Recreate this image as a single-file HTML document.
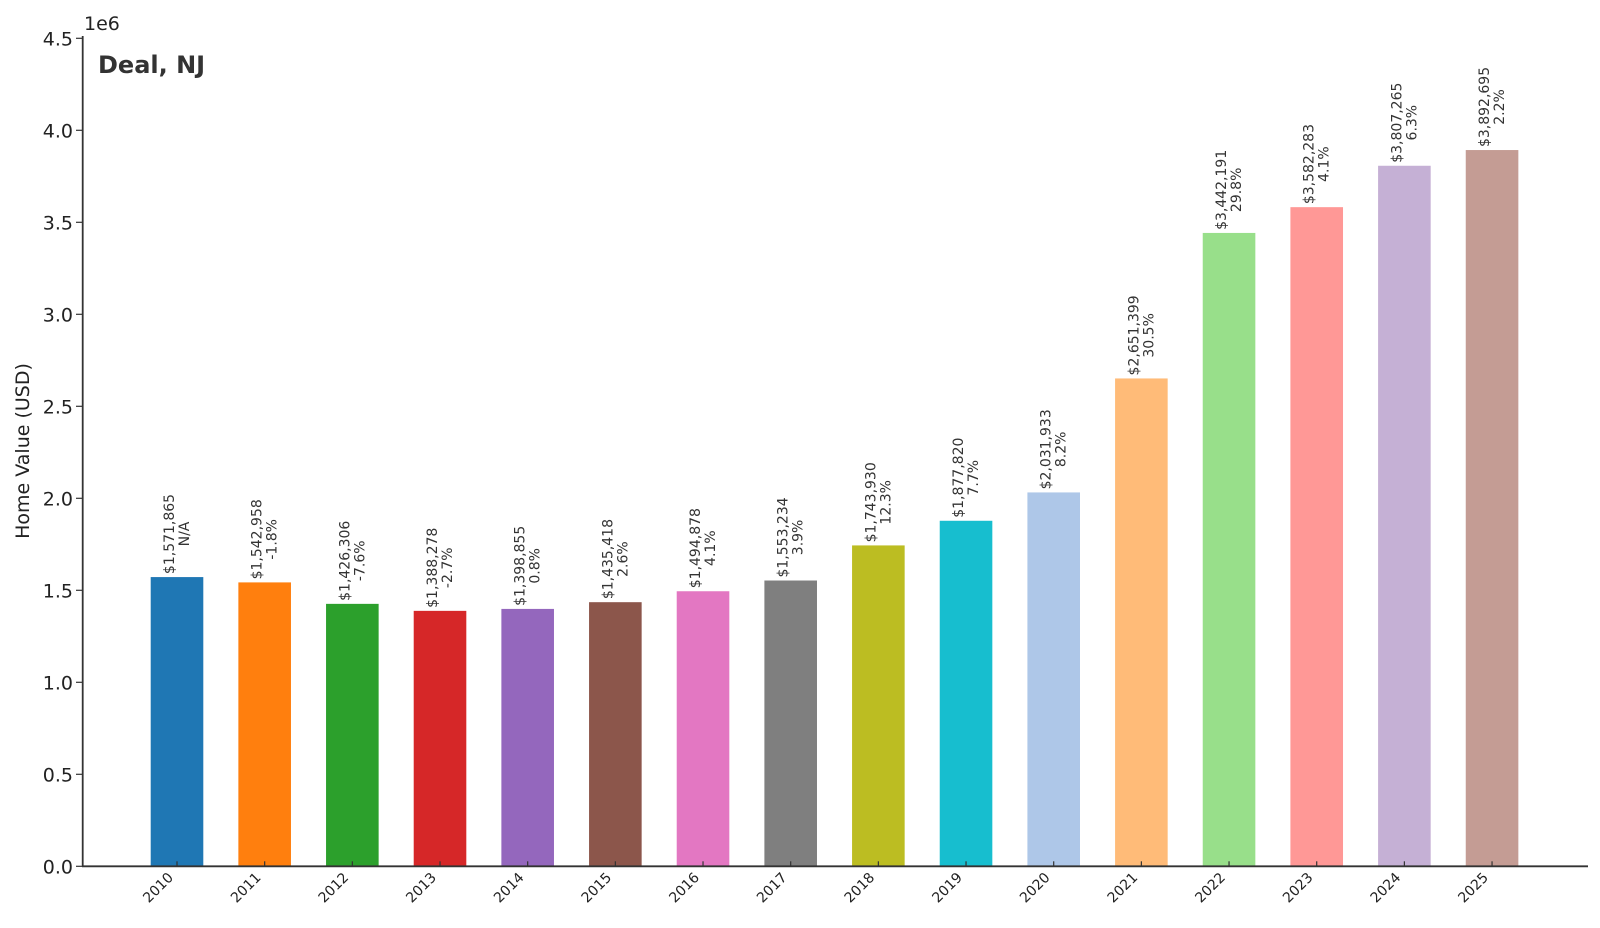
<!DOCTYPE html>
<html><head><meta charset="utf-8"><style>
body{margin:0;background:#fff}
svg{display:block;font-family:"DejaVu Sans","Liberation Sans",sans-serif}
</style></head><body>
<svg width="1600" height="928" viewBox="0 0 1600 928">
<g id="bars"></g>
<g id="axes"></g>
<text x="98" y="73" font-size="24" font-weight="bold" fill="#333">Deal, NJ</text>
<text x="84" y="30" font-size="19" fill="#222">1e6</text>
<text transform="translate(29,451) rotate(-90)" text-anchor="middle" font-size="19" fill="#222">Home Value (USD)</text>
</svg>
<script>
const years=["2010","2011","2012","2013","2014","2015","2016","2017","2018","2019","2020","2021","2022","2023","2024","2025"];
const values=[1571865,1542958,1426306,1388278,1398855,1435418,1494878,1553234,1743930,1877820,2031933,2651399,3442191,3582283,3807265,3892695];
const changes=["N/A","-1.8%","-7.6%","-2.7%","0.8%","2.6%","4.1%","3.9%","12.3%","7.7%","8.2%","30.5%","29.8%","4.1%","6.3%","2.2%"];
const yTicks=[0,0.5,1.0,1.5,2.0,2.5,3.0,3.5,4.0,4.5];
const colors=["#1f77b4","#ff7f0e","#2ca02c","#d62728","#9467bd","#8c564b","#e377c2","#7f7f7f","#bcbd22","#17becf","#aec7e8","#ffbb78","#98df8a","#ff9896","#c5b0d5","#c49c94"];
const NS="http://www.w3.org/2000/svg";
const y0=866.3,yPer=184; // px per 1e6
const yScale=v=>y0-v/1e6*yPer;
const x0=177,step=87.67,bw=52.6;
const xScale=i=>x0+i*step;
const bars=document.getElementById('bars'),axes=document.getElementById('axes');
function mk(t,a,p){const e=document.createElementNS(NS,t);for(const k in a)e.setAttribute(k,a[k]);p.appendChild(e);return e;}
values.forEach((v,i)=>{
 const cx=xScale(i),top=yScale(v);
 const r=mk('rect',{x:cx-bw/2,y:top,width:bw,height:y0-top,fill:colors[i]},bars);
 
 
 const g=mk('g',{transform:`translate(${cx},${top-3}) rotate(-90)`},bars);
 
 
 const t1=mk('text',{x:0,y:-3,'font-size':14,fill:'#333'},g);
 t1.textContent='$'+v.toLocaleString('en-US');
 
 
 const t2=mk('text',{x:0,y:12,'font-size':14,fill:'#333','text-anchor':'middle'},g);
 t2.setAttribute('x',String(t1.getComputedTextLength()/2));
 t2.textContent=changes[i];
 
 
 const tk=mk('line',{x1:cx,x2:cx,y1:y0,y2:y0-5,stroke:'#333','stroke-width':1.2},axes);
 
 
 const tl=mk('text',{transform:`translate(${cx-3},${y0+12}) rotate(-45)`,'text-anchor':'end','font-size':14,fill:'#222'},axes);
 tl.textContent=years[i];
 
 
});
yTicks.forEach(v=>{
 const y=yScale(v*1e6);
 const tk=mk('line',{x1:76,x2:83,y1:y,y2:y,stroke:'#333','stroke-width':1.2},axes);
 
 
 const tl=mk('text',{x:73,y:y+7,'text-anchor':'end','font-size':19,fill:'#222'},axes);
 tl.textContent=v.toFixed(1);
 
 
});
const ya=mk('line',{x1:82.7,x2:82.7,y1:36,y2:y0,stroke:'#333','stroke-width':1.8},axes);


const xa=mk('line',{x1:82,x2:1588,y1:y0,y2:y0,stroke:'#333','stroke-width':1.8},axes);


</script>
</body></html>
